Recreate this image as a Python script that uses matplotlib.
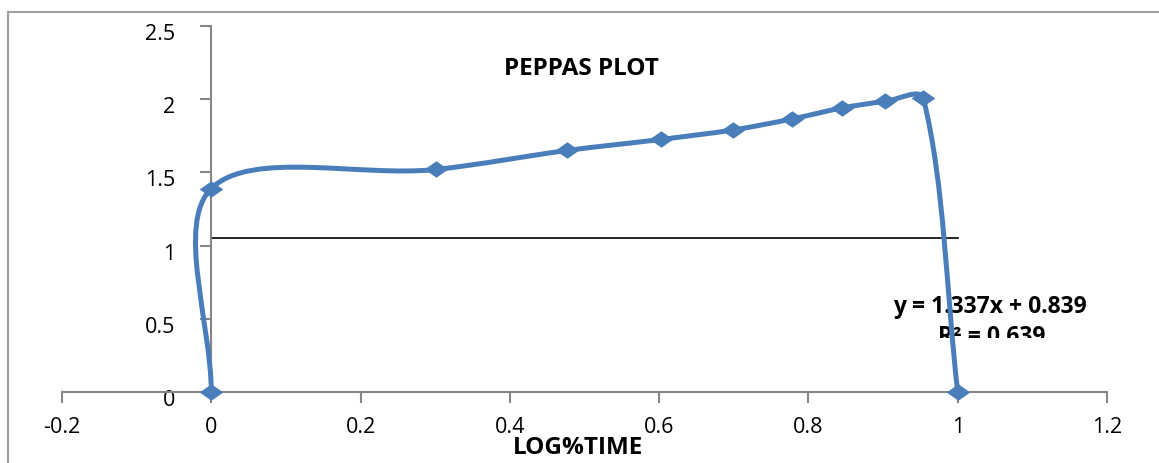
import numpy as np
import matplotlib
matplotlib.use('Agg')
import matplotlib.pyplot as plt
from matplotlib.path import Path
from matplotlib.patches import PathPatch
from matplotlib.lines import Line2D
from matplotlib.transforms import Bbox, ScaledTranslation

# data
log_time = [0, 0, 0.301, 0.477, 0.602, 0.699, 0.778, 0.845, 0.903, 0.954, 1.0]
log_release = [0, 1.39, 1.52, 1.65, 1.725, 1.79, 1.865, 1.94, 1.985, 2.005, 0]
trend_x = [0, 1.0]
trend_y = [1.05, 1.05]
x_ticks = [-0.2, 0, 0.2, 0.4, 0.6, 0.8, 1, 1.2]
y_ticks = [0, 0.5, 1, 1.5, 2, 2.5]
equation = 'y = 1.337x + 0.839'
r_squared = 'R² = 0.639'

blue = '#4A7EBB'
grey = '#868686'
plt.rcParams['font.family'] = ['Open Sans', 'DejaVu Sans']

fig = plt.figure(figsize=(11.59, 4.64), dpi=100)
ax = fig.add_axes([62 / 1159, 71 / 464, 1045 / 1159, 366 / 464])
ax.set_xlim(-0.2, 1.2)
ax.set_ylim(0, 2.5)

# excel style frame round the chart
fig.add_artist(Line2D([8 / 1159, 8 / 1159], [0, 1 - 13 / 464], color='#A0A0A0', lw=1.5))
fig.add_artist(Line2D([8 / 1159, 1], [1 - 13 / 464, 1 - 13 / 464], color='#A0A0A0', lw=1.5))

for side in ['top', 'right']:
    ax.spines[side].set_visible(False)
ax.spines['left'].set_position(('data', 0))
ax.spines['bottom'].set_position(('data', 0))
for side in ['left', 'bottom']:
    ax.spines[side].set_color(grey)
    ax.spines[side].set_linewidth(1.5)

ax.set_xticks(x_ticks)
ax.set_yticks(y_ticks)
ax.set_xticklabels([f'{v:g}' for v in x_ticks])
ax.set_yticklabels([f'{v:g}' for v in y_ticks])
ax.tick_params(axis='both', direction='out', length=8, width=1.5, color=grey, labelsize=15.5)
ax.tick_params(axis='y', pad=18)
ax.tick_params(axis='x', pad=9)
for lab in ax.get_yticklabels():
    lab.set_transform(lab.get_transform() + ScaledTranslation(0, -5 / 100, fig.dpi_scale_trans))


def smooth_path(xs, ys):
    # excel-like smoothed line: bezier segments, control points in screen space
    pts = ax.transData.transform(np.column_stack([xs, ys]))
    n = len(pts)
    verts = [pts[0]]
    codes = [Path.MOVETO]
    for i in range(n - 1):
        p0 = pts[i - 1] if i > 0 else pts[i]
        p1, p2 = pts[i], pts[i + 1]
        p3 = pts[i + 2] if i + 2 < n else pts[i + 1]
        d01 = np.hypot(*(p1 - p0))
        d12 = np.hypot(*(p2 - p1))
        d23 = np.hypot(*(p3 - p2))
        w1 = d12 / (d01 + d12) if d01 + d12 > 0 else 0
        w2 = d12 / (d12 + d23) if d12 + d23 > 0 else 0
        c1 = p1 + (p2 - p0) * w1 / 3
        c2 = p2 - (p3 - p1) * w2 / 3
        verts += [c1, c2, p2]
        codes += [Path.CURVE4] * 3
    verts = ax.transData.inverted().transform(np.array(verts))
    return Path(verts, codes)


ax.add_patch(PathPatch(smooth_path(log_time, log_release), facecolor='none',
                       edgecolor=blue, lw=3.6, capstyle='round', zorder=3))
ax.plot(trend_x, trend_y, color='black', lw=1.2, zorder=2)
diamond = [(-1, 0), (0, 0.7), (1, 0), (0, -0.7), (-1, 0)]
ax.plot(log_time, log_release, ls='none', marker=diamond, markersize=17,
        color=blue, markeredgewidth=0, zorder=4, clip_on=False)

fig.text(581 / 1159, 1 - 69 / 464, 'PEPPAS PLOT', ha='center', va='center',
         fontsize=17.5, fontweight='bold')
fig.text(578 / 1159, 1 - 448 / 464, 'LOG%TIME', ha='center', va='center',
         fontsize=17.5, fontweight='bold')
# trendline label sits under the series line
ax.text(990 / 1159, 1 - 307 / 464, equation, ha='center', va='center',
        fontsize=16.5, fontweight='bold', zorder=1, transform=fig.transFigure)
r2 = ax.text(992 / 1159, 1 - 337 / 464, r_squared, ha='center', va='center',
             fontsize=16.5, fontweight='bold', zorder=1, transform=fig.transFigure)
r2.set_clip_box(Bbox([[0, 464 - 339], [1159, 464]]))
r2.set_clip_on(True)

fig.savefig('out.png', dpi=100)
